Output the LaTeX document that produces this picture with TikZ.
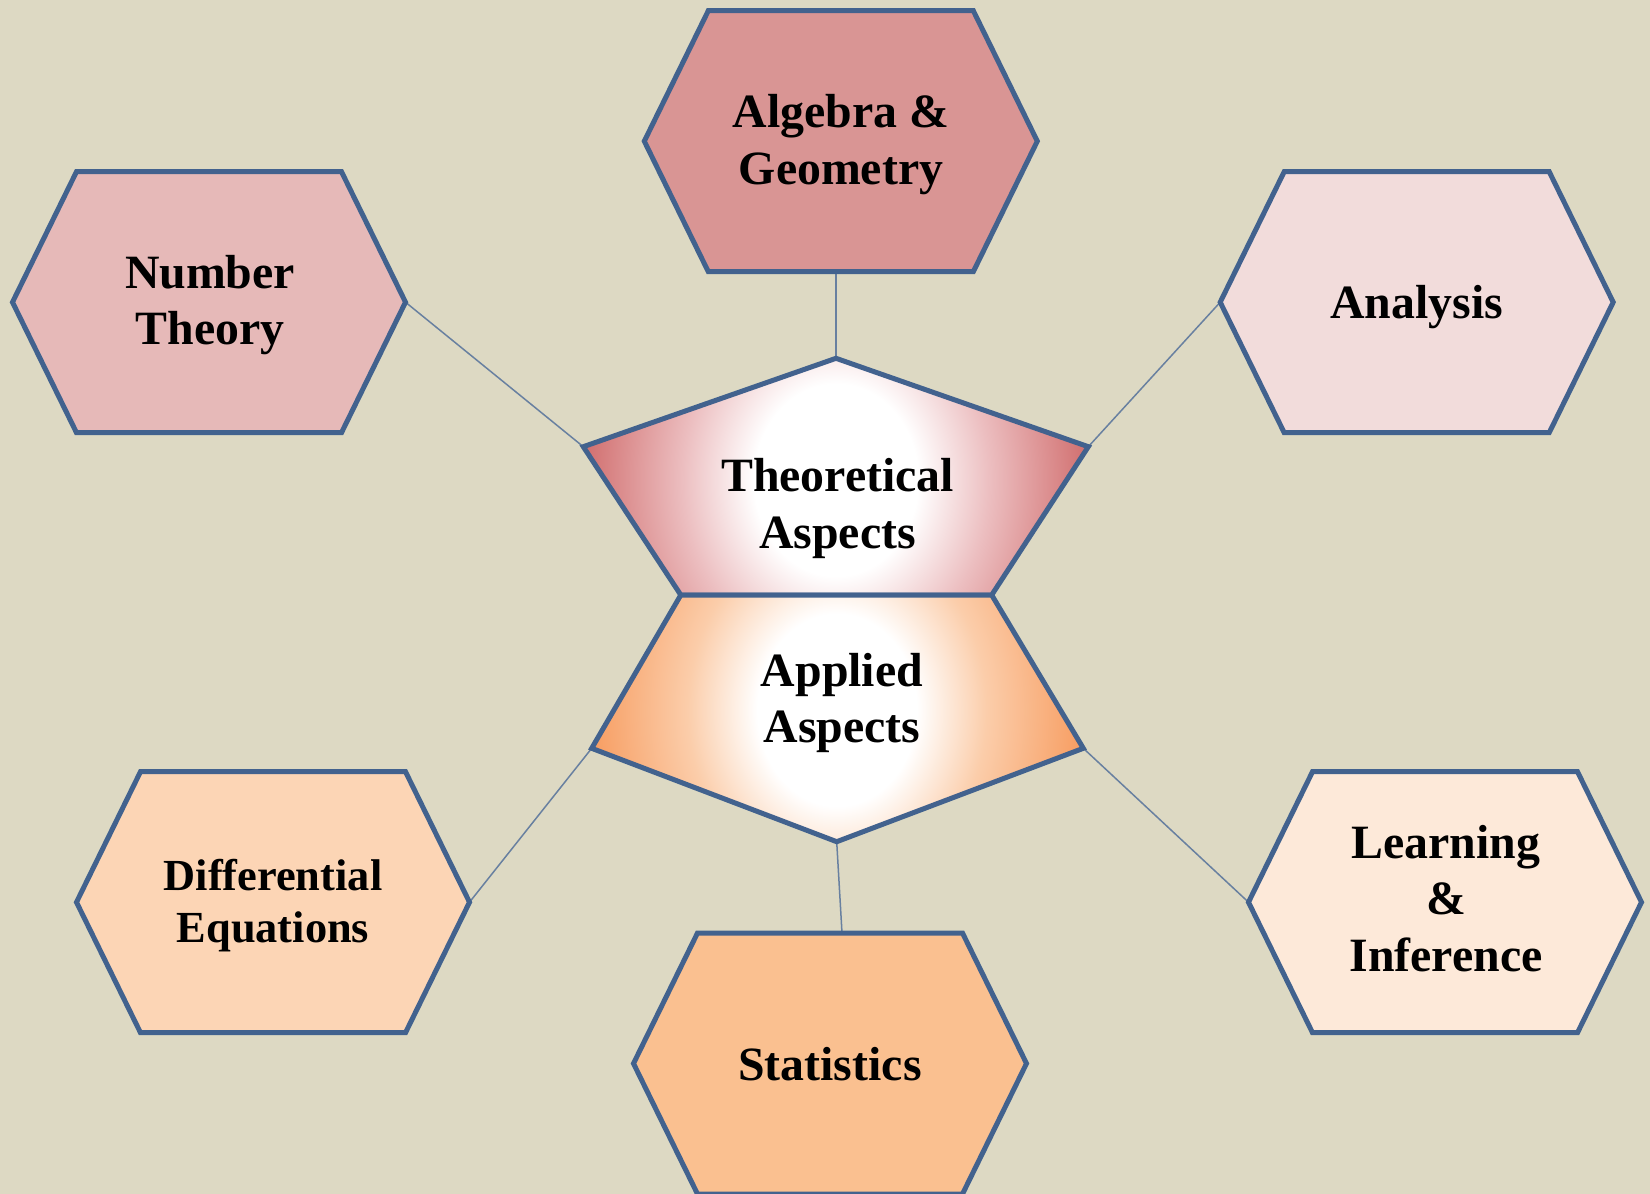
\documentclass[tikz,border=0pt]{standalone}
\usepackage{fontspec}
\setmainfont{Liberation Serif}
\usetikzlibrary{calc}
\definecolor{bgtan}{RGB}{221,217,195}
\definecolor{hexborder}{RGB}{66,98,142}
\definecolor{connector}{RGB}{104,128,160}
\definecolor{fAlg}{RGB}{217,149,148}
\definecolor{fNum}{RGB}{230,185,184}
\definecolor{fAna}{RGB}{242,220,219}
\definecolor{fDiff}{RGB}{252,213,181}
\definecolor{fStat}{RGB}{250,192,144}
\definecolor{fLearn}{RGB}{253,233,217}
\definecolor{theoedge}{RGB}{208,108,108}
\definecolor{theomid}{RGB}{236,190,192}
\definecolor{appedge}{RGB}{247,156,96}
\definecolor{appmid}{RGB}{251,205,170}
\pgfdeclareradialshading{theoshade}{\pgfpoint{0bp}{0bp}}{color(0bp)=(white); color(8bp)=(white); color(15bp)=(theomid); color(25bp)=(theoedge); color(50bp)=(theoedge)}
\pgfdeclareradialshading{appshade}{\pgfpoint{0bp}{0bp}}{color(0bp)=(white); color(8bp)=(white); color(15bp)=(appmid); color(25bp)=(appedge); color(50bp)=(appedge)}
\pgfdeclarelayer{bglayer}
\pgfdeclarelayer{connlayer}
\pgfsetlayers{bglayer,connlayer,main}
\tikzset{
  hexline/.style={draw=hexborder, line width=2.5pt, line join=miter},
  link/.style={draw=connector, line width=0.75pt},
  lbl/.style={align=center, inner sep=0pt, text=black, font=\bfseries\fontsize{23.9}{28.3}\selectfont},
  lblsmall/.style={align=center, inner sep=0pt, text=black, font=\bfseries\fontsize{22.2}{26.35}\selectfont},
  pics/hexa/.style={code={
    \draw[hexline, fill=#1] (-132.5,-130.5) -- (132.5,-130.5) -- (196.5,0) -- (132.5,130.5) -- (-132.5,130.5) -- (-196.5,0) -- cycle;
    \coordinate (-left) at (-196.5,0);
    \coordinate (-right) at (196.5,0);
    \coordinate (-top) at (0,-130.5);
    \coordinate (-bottom) at (0,130.5);
  }}
}
\begin{document}
\begin{tikzpicture}[x=0.5pt,y=-0.5pt]
\useasboundingbox (0,0) rectangle (1650,1194);
\begin{pgfonlayer}{bglayer}
\fill[bgtan] (0,0) rectangle (1650,1194);
\end{pgfonlayer}

% outer hexagons
\pic (alg) at (840.8,141.2) {hexa=fAlg};
\pic (num) at (209,302.2) {hexa=fNum};
\pic (ana) at (1416.7,302.2) {hexa=fAna};
\pic (dif) at (273,902.2) {hexa=fDiff};
\pic (sta) at (830,1063.5) {hexa=fStat};
\pic (lea) at (1445,902.2) {hexa=fLearn};

% central shapes
\coordinate (thT) at (836,358.3);
\coordinate (thL) at (583.3,446.7);
\coordinate (thR) at (1088.3,446.7);
\coordinate (thBL) at (680.8,595);
\coordinate (thBR) at (991.7,595);
\coordinate (apL) at (591.7,748.3);
\coordinate (apR) at (1083.3,748.3);
\coordinate (apB) at (836.7,841.7);

\begin{scope}
\clip (thT) -- (thR) -- (thBR) -- (thBL) -- (thL) -- cycle;
\shade[shading=theoshade] (580,180) rectangle (1092,780);
\end{scope}
\draw[hexline] (thT) -- (thR) -- (thBR) -- (thBL) -- (thL) -- cycle;

\begin{scope}
\clip (thBL) -- (thBR) -- (apR) -- (apB) -- (apL) -- cycle;
\shade[shading=appshade] (588,410) rectangle (1086,1010);
\end{scope}
\draw[hexline] (thBL) -- (thBR) -- (apR) -- (apB) -- (apL) -- cycle;

% labels
\node[lbl] (tAlg) at (841,144.7) {\strut Algebra \&\\\strut Geometry};
\node[lbl] (tNum) at (210,305.3) {\strut Number\\\strut Theory};
\node[lbl] (tAna) at (1416.7,307) {\strut Analysis};
\node[lbl] (tThe) at (837.5,508.7) {\strut Theoretical\\\strut Aspects};
\node[lbl] (tApp) at (842,703) {\strut Applied\\\strut Aspects};
\node[lblsmall] (tDif) at (273,906) {\strut Differential\\\strut Equations};
\node[lbl] (tSta) at (830,1068.7) {\strut Statistics};
\node[lbl] (tLea) at (1446,903.6) {\strut Learning\\\strut \&\\\strut Inference};

% connectors
\begin{pgfonlayer}{connlayer}
\draw[link] (thT) -- (alg-bottom -| thT);
\draw[link] (thL) -- (num-right);
\draw[link] (thR) -- (ana-left);
\draw[link] (apL) -- (dif-right);
\draw[link] (apR) -- (lea-left);
\draw[link] (apB) -- ($(sta-top)+(12,0)$);
\end{pgfonlayer}
\end{tikzpicture}
\end{document}
